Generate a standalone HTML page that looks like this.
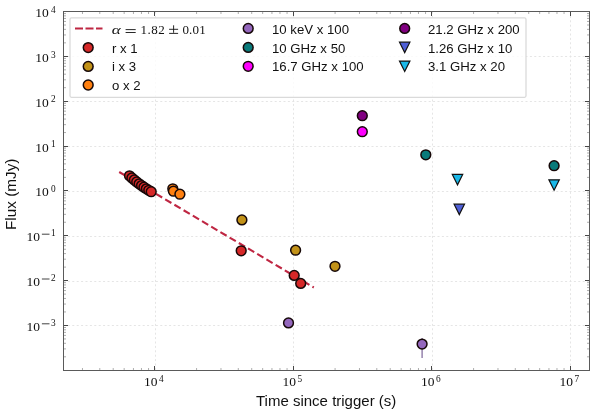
<!DOCTYPE html>
<html><head><meta charset="utf-8"><style>
html,body{margin:0;padding:0;background:#fff;}
svg{display:block;filter:blur(0.35px);}
text{font-family:"Liberation Sans",sans-serif;}
.s{font-family:"Liberation Serif",serif;}
</style></head><body>
<svg width="595" height="415" viewBox="0 0 595 415">
<rect width="595" height="415" fill="#fff"/>

<line x1="155.5" y1="11.5" x2="155.5" y2="370.5" stroke="#e2e2e2" stroke-width="0.9" stroke-dasharray="2,2.4"/>
<line x1="293.5" y1="11.5" x2="293.5" y2="370.5" stroke="#e2e2e2" stroke-width="0.9" stroke-dasharray="2,2.4"/>
<line x1="432.5" y1="11.5" x2="432.5" y2="370.5" stroke="#e2e2e2" stroke-width="0.9" stroke-dasharray="2,2.4"/>
<line x1="570.5" y1="11.5" x2="570.5" y2="370.5" stroke="#e2e2e2" stroke-width="0.9" stroke-dasharray="2,2.4"/>
<line x1="63.5" y1="325.5" x2="589.5" y2="325.5" stroke="#e2e2e2" stroke-width="0.9" stroke-dasharray="2,2.4"/>
<line x1="63.5" y1="281.5" x2="589.5" y2="281.5" stroke="#e2e2e2" stroke-width="0.9" stroke-dasharray="2,2.4"/>
<line x1="63.5" y1="236.5" x2="589.5" y2="236.5" stroke="#e2e2e2" stroke-width="0.9" stroke-dasharray="2,2.4"/>
<line x1="63.5" y1="191.5" x2="589.5" y2="191.5" stroke="#e2e2e2" stroke-width="0.9" stroke-dasharray="2,2.4"/>
<line x1="63.5" y1="146.5" x2="589.5" y2="146.5" stroke="#e2e2e2" stroke-width="0.9" stroke-dasharray="2,2.4"/>
<line x1="63.5" y1="101.5" x2="589.5" y2="101.5" stroke="#e2e2e2" stroke-width="0.9" stroke-dasharray="2,2.4"/>
<line x1="63.5" y1="56.5" x2="589.5" y2="56.5" stroke="#e2e2e2" stroke-width="0.9" stroke-dasharray="2,2.4"/>
<line x1="119.2" y1="172" x2="313.8" y2="287.5" stroke="#bf2642" stroke-width="2.1" stroke-dasharray="7.2,3.5"/>
<circle cx="129.50" cy="175.80" r="4.9" fill="#d62828" stroke="#160808" stroke-width="1.5"/>
<circle cx="131.91" cy="177.91" r="4.9" fill="#d62828" stroke="#160808" stroke-width="1.5"/>
<circle cx="134.32" cy="179.98" r="4.9" fill="#d62828" stroke="#160808" stroke-width="1.5"/>
<circle cx="136.73" cy="181.97" r="4.9" fill="#d62828" stroke="#160808" stroke-width="1.5"/>
<circle cx="139.14" cy="183.85" r="4.9" fill="#d62828" stroke="#160808" stroke-width="1.5"/>
<circle cx="141.56" cy="185.62" r="4.9" fill="#d62828" stroke="#160808" stroke-width="1.5"/>
<circle cx="143.97" cy="187.27" r="4.9" fill="#d62828" stroke="#160808" stroke-width="1.5"/>
<circle cx="146.38" cy="188.81" r="4.9" fill="#d62828" stroke="#160808" stroke-width="1.5"/>
<circle cx="148.79" cy="190.28" r="4.9" fill="#d62828" stroke="#160808" stroke-width="1.5"/>
<circle cx="151.20" cy="191.70" r="4.9" fill="#d62828" stroke="#160808" stroke-width="1.5"/>
<circle cx="241.20" cy="250.80" r="4.9" fill="#d62828" stroke="#160808" stroke-width="1.5"/>
<circle cx="294.20" cy="275.40" r="4.9" fill="#d62828" stroke="#160808" stroke-width="1.5"/>
<circle cx="300.70" cy="283.40" r="4.9" fill="#d62828" stroke="#160808" stroke-width="1.5"/>
<circle cx="241.90" cy="219.90" r="4.9" fill="#c29218" stroke="#160808" stroke-width="1.5"/>
<circle cx="295.60" cy="250.20" r="4.9" fill="#c29218" stroke="#160808" stroke-width="1.5"/>
<circle cx="335.00" cy="266.30" r="4.9" fill="#c29218" stroke="#160808" stroke-width="1.5"/>
<circle cx="172.80" cy="188.80" r="4.9" fill="#ff8010" stroke="#160808" stroke-width="1.5"/>
<circle cx="173.40" cy="191.20" r="4.9" fill="#ff8010" stroke="#160808" stroke-width="1.5"/>
<circle cx="179.90" cy="194.20" r="4.9" fill="#ff8010" stroke="#160808" stroke-width="1.5"/>
<line x1="422.1" y1="338" x2="422.1" y2="358" stroke="#8670a0" stroke-width="1.3"/>
<circle cx="288.50" cy="322.90" r="4.9" fill="#9467bd" stroke="#160808" stroke-width="1.5"/>
<circle cx="422.10" cy="344.10" r="4.9" fill="#9467bd" stroke="#160808" stroke-width="1.5"/>
<circle cx="362.30" cy="115.70" r="4.9" fill="#800080" stroke="#160808" stroke-width="1.5"/>
<circle cx="362.30" cy="131.70" r="4.9" fill="#ff00ff" stroke="#160808" stroke-width="1.5"/>
<circle cx="425.80" cy="154.80" r="4.9" fill="#0a7a7a" stroke="#160808" stroke-width="1.5"/>
<circle cx="554.10" cy="165.70" r="4.9" fill="#0a7a7a" stroke="#160808" stroke-width="1.5"/>
<path d="M454.10,204.20 L464.50,204.20 L459.30,214.60 Z" fill="#4f5fd6" stroke="#111" stroke-width="1.2" stroke-linejoin="miter"/>
<path d="M452.30,174.40 L462.70,174.40 L457.50,184.80 Z" fill="#1ab8e8" stroke="#111" stroke-width="1.2" stroke-linejoin="miter"/>
<path d="M548.90,179.80 L559.30,179.80 L554.10,190.20 Z" fill="#1ab8e8" stroke="#111" stroke-width="1.2" stroke-linejoin="miter"/>
<rect x="70" y="17.9" width="456" height="79.4" rx="1.5" ry="1.5" fill="#fff" fill-opacity="0.8" stroke="#dadada" stroke-width="1.3"/>
<line x1="75" y1="28.5" x2="102.5" y2="28.5" stroke="#be2642" stroke-width="1.8" stroke-dasharray="8,2.5"/>
<circle cx="88.20" cy="47.60" r="4.9" fill="#d62828" stroke="#160808" stroke-width="1.5"/>
<circle cx="88.20" cy="66.40" r="4.9" fill="#c29218" stroke="#160808" stroke-width="1.5"/>
<circle cx="88.20" cy="85.00" r="4.9" fill="#ff8010" stroke="#160808" stroke-width="1.5"/>
<circle cx="248.20" cy="28.40" r="4.9" fill="#9467bd" stroke="#160808" stroke-width="1.5"/>
<circle cx="248.20" cy="47.40" r="4.9" fill="#0a7a7a" stroke="#160808" stroke-width="1.5"/>
<circle cx="248.20" cy="66.30" r="4.9" fill="#ff00ff" stroke="#160808" stroke-width="1.5"/>
<circle cx="404.70" cy="28.40" r="4.9" fill="#800080" stroke="#160808" stroke-width="1.5"/>
<path d="M399.50,42.20 L409.90,42.20 L404.70,52.60 Z" fill="#4f5fd6" stroke="#111" stroke-width="1.2" stroke-linejoin="miter"/>
<path d="M399.50,61.10 L409.90,61.10 L404.70,71.50 Z" fill="#1ab8e8" stroke="#111" stroke-width="1.2" stroke-linejoin="miter"/>
<text x="112" y="52.6" font-size="13.2" fill="#111" >r x 1</text>
<text x="112" y="71.4" font-size="13.2" fill="#111" >i x 3</text>
<text x="112" y="90" font-size="13.2" fill="#111" >o x 2</text>
<text x="272" y="33.7" font-size="13.2" fill="#111" >10 keV x 100</text>
<text x="272" y="52.6" font-size="13.2" fill="#111" >10 GHz x 50</text>
<text x="272" y="71.4" font-size="13.2" fill="#111" >16.7 GHz x 100</text>
<text x="428" y="33.7" font-size="13.2" fill="#111" >21.2 GHz x 200</text>
<text x="428" y="52.6" font-size="13.2" fill="#111" >1.26 GHz x 10</text>
<text x="428" y="71.4" font-size="13.2" fill="#111" >3.1 GHz x 20</text>
<g fill="#111" font-size="13">
<text x="111.8" y="34.3" font-style="italic" class="s" textLength="9" lengthAdjust="spacingAndGlyphs">α</text>
<text x="140.6" y="34" class="s" textLength="24.2" lengthAdjust="spacing">1.82</text>
<text x="182.4" y="34" class="s" textLength="23.4" lengthAdjust="spacing">0.01</text>
</g>
<path d="M125.6,29.6H135.7M125.6,32.5H135.7M169.1,29.3H178.1M173.6,25.3V32.8M169.1,33.4H178.1" stroke="#111" stroke-width="0.9" fill="none"/>
<path d="M82.48,370.5v-2.5M82.48,11.5v2.5M99.79,370.5v-2.5M99.79,11.5v2.5M113.21,370.5v-2.5M113.21,11.5v2.5M124.17,370.5v-2.5M124.17,11.5v2.5M133.45,370.5v-2.5M133.45,11.5v2.5M141.48,370.5v-2.5M141.48,11.5v2.5M148.56,370.5v-2.5M148.56,11.5v2.5M196.59,370.5v-2.5M196.59,11.5v2.5M220.98,370.5v-2.5M220.98,11.5v2.5M238.29,370.5v-2.5M238.29,11.5v2.5M251.71,370.5v-2.5M251.71,11.5v2.5M262.67,370.5v-2.5M262.67,11.5v2.5M271.95,370.5v-2.5M271.95,11.5v2.5M279.98,370.5v-2.5M279.98,11.5v2.5M287.06,370.5v-2.5M287.06,11.5v2.5M335.09,370.5v-2.5M335.09,11.5v2.5M359.48,370.5v-2.5M359.48,11.5v2.5M376.79,370.5v-2.5M376.79,11.5v2.5M390.21,370.5v-2.5M390.21,11.5v2.5M401.17,370.5v-2.5M401.17,11.5v2.5M410.45,370.5v-2.5M410.45,11.5v2.5M418.48,370.5v-2.5M418.48,11.5v2.5M425.56,370.5v-2.5M425.56,11.5v2.5M473.59,370.5v-2.5M473.59,11.5v2.5M497.98,370.5v-2.5M497.98,11.5v2.5M515.29,370.5v-2.5M515.29,11.5v2.5M528.71,370.5v-2.5M528.71,11.5v2.5M539.67,370.5v-2.5M539.67,11.5v2.5M548.95,370.5v-2.5M548.95,11.5v2.5M556.98,370.5v-2.5M556.98,11.5v2.5M564.06,370.5v-2.5M564.06,11.5v2.5M63.5,356.80h2.5M589.5,356.80h-2.5M63.5,348.90h2.5M589.5,348.90h-2.5M63.5,343.30h2.5M589.5,343.30h-2.5M63.5,338.95h2.5M589.5,338.95h-2.5M63.5,335.40h2.5M589.5,335.40h-2.5M63.5,332.40h2.5M589.5,332.40h-2.5M63.5,329.80h2.5M589.5,329.80h-2.5M63.5,327.50h2.5M589.5,327.50h-2.5M63.5,311.95h2.5M589.5,311.95h-2.5M63.5,304.05h2.5M589.5,304.05h-2.5M63.5,298.45h2.5M589.5,298.45h-2.5M63.5,294.10h2.5M589.5,294.10h-2.5M63.5,290.55h2.5M589.5,290.55h-2.5M63.5,287.55h2.5M589.5,287.55h-2.5M63.5,284.95h2.5M589.5,284.95h-2.5M63.5,282.65h2.5M589.5,282.65h-2.5M63.5,267.10h2.5M589.5,267.10h-2.5M63.5,259.20h2.5M589.5,259.20h-2.5M63.5,253.60h2.5M589.5,253.60h-2.5M63.5,249.25h2.5M589.5,249.25h-2.5M63.5,245.70h2.5M589.5,245.70h-2.5M63.5,242.70h2.5M589.5,242.70h-2.5M63.5,240.10h2.5M589.5,240.10h-2.5M63.5,237.80h2.5M589.5,237.80h-2.5M63.5,222.25h2.5M589.5,222.25h-2.5M63.5,214.35h2.5M589.5,214.35h-2.5M63.5,208.75h2.5M589.5,208.75h-2.5M63.5,204.40h2.5M589.5,204.40h-2.5M63.5,200.85h2.5M589.5,200.85h-2.5M63.5,197.85h2.5M589.5,197.85h-2.5M63.5,195.25h2.5M589.5,195.25h-2.5M63.5,192.95h2.5M589.5,192.95h-2.5M63.5,177.40h2.5M589.5,177.40h-2.5M63.5,169.50h2.5M589.5,169.50h-2.5M63.5,163.90h2.5M589.5,163.90h-2.5M63.5,159.55h2.5M589.5,159.55h-2.5M63.5,156.00h2.5M589.5,156.00h-2.5M63.5,153.00h2.5M589.5,153.00h-2.5M63.5,150.40h2.5M589.5,150.40h-2.5M63.5,148.10h2.5M589.5,148.10h-2.5M63.5,132.55h2.5M589.5,132.55h-2.5M63.5,124.65h2.5M589.5,124.65h-2.5M63.5,119.05h2.5M589.5,119.05h-2.5M63.5,114.70h2.5M589.5,114.70h-2.5M63.5,111.15h2.5M589.5,111.15h-2.5M63.5,108.15h2.5M589.5,108.15h-2.5M63.5,105.55h2.5M589.5,105.55h-2.5M63.5,103.25h2.5M589.5,103.25h-2.5M63.5,87.70h2.5M589.5,87.70h-2.5M63.5,79.80h2.5M589.5,79.80h-2.5M63.5,74.20h2.5M589.5,74.20h-2.5M63.5,69.85h2.5M589.5,69.85h-2.5M63.5,66.30h2.5M589.5,66.30h-2.5M63.5,63.30h2.5M589.5,63.30h-2.5M63.5,60.70h2.5M589.5,60.70h-2.5M63.5,58.40h2.5M589.5,58.40h-2.5M63.5,42.85h2.5M589.5,42.85h-2.5M63.5,34.95h2.5M589.5,34.95h-2.5M63.5,29.35h2.5M589.5,29.35h-2.5M63.5,25.00h2.5M589.5,25.00h-2.5M63.5,21.45h2.5M589.5,21.45h-2.5M63.5,18.45h2.5M589.5,18.45h-2.5M63.5,15.85h2.5M589.5,15.85h-2.5M63.5,13.55h2.5M589.5,13.55h-2.5" stroke="#999" stroke-width="0.8" fill="none"/>
<path d="M154.5,370.5v-4.5M154.5,11.5v4.5M293.5,370.5v-4.5M293.5,11.5v4.5M431.5,370.5v-4.5M431.5,11.5v4.5M570.5,370.5v-4.5M570.5,11.5v4.5M63.5,370.5h4.5M589.5,370.5h-4.5M63.5,325.5h4.5M589.5,325.5h-4.5M63.5,280.5h4.5M589.5,280.5h-4.5M63.5,235.5h4.5M589.5,235.5h-4.5M63.5,190.5h4.5M589.5,190.5h-4.5M63.5,146.5h4.5M589.5,146.5h-4.5M63.5,101.5h4.5M589.5,101.5h-4.5M63.5,56.5h4.5M589.5,56.5h-4.5M63.5,11.5h4.5M589.5,11.5h-4.5" stroke="#333" stroke-width="0.9" fill="none"/>
<rect x="63.5" y="11.5" width="526.0" height="359.0" fill="none" stroke="#5a5a5a" stroke-width="1"/>
<text class="s" x="144.1" y="386" font-size="13.5" fill="#111">10</text><text class="s" x="159.0" y="381.6" font-size="9.3" fill="#111">4</text>
<text class="s" x="282.6" y="386" font-size="13.5" fill="#111">10</text><text class="s" x="297.5" y="381.6" font-size="9.3" fill="#111">5</text>
<text class="s" x="421.1" y="386" font-size="13.5" fill="#111">10</text><text class="s" x="436.0" y="381.6" font-size="9.3" fill="#111">6</text>
<text class="s" x="559.6" y="386" font-size="13.5" fill="#111">10</text><text class="s" x="574.5" y="381.6" font-size="9.3" fill="#111">7</text>
<text class="s" x="55.6" y="326.1" font-size="9.3" fill="#111" text-anchor="end">3</text><text class="s" x="26.6" y="330.8" font-size="13.5" fill="#111">10</text>
<path d="M41.9,323.8H49.5" stroke="#111" stroke-width="0.8"/>
<text class="s" x="55.6" y="281.3" font-size="9.3" fill="#111" text-anchor="end">2</text><text class="s" x="26.6" y="286.0" font-size="13.5" fill="#111">10</text>
<path d="M41.9,279.0H49.5" stroke="#111" stroke-width="0.8"/>
<text class="s" x="55.6" y="236.4" font-size="9.3" fill="#111" text-anchor="end">1</text><text class="s" x="26.6" y="241.2" font-size="13.5" fill="#111">10</text>
<path d="M41.9,234.2H49.5" stroke="#111" stroke-width="0.8"/>
<text class="s" x="55.6" y="192.1" font-size="9.3" fill="#111" text-anchor="end">0</text><text class="s" x="35.2" y="196.3" font-size="13.5" fill="#111">10</text>
<text class="s" x="55.6" y="147.2" font-size="9.3" fill="#111" text-anchor="end">1</text><text class="s" x="35.2" y="151.5" font-size="13.5" fill="#111">10</text>
<text class="s" x="55.6" y="102.4" font-size="9.3" fill="#111" text-anchor="end">2</text><text class="s" x="35.2" y="106.6" font-size="13.5" fill="#111">10</text>
<text class="s" x="55.6" y="57.6" font-size="9.3" fill="#111" text-anchor="end">3</text><text class="s" x="35.2" y="61.8" font-size="13.5" fill="#111">10</text>
<text class="s" x="55.6" y="12.7" font-size="9.3" fill="#111" text-anchor="end">4</text><text class="s" x="35.2" y="16.9" font-size="13.5" fill="#111">10</text>
<text x="256" y="406" font-size="15" fill="#111">Time since trigger (s)</text>
<text transform="translate(16.4,230) rotate(-90)" font-size="15.3" fill="#111">Flux (mJy)</text>
</svg></body></html>
